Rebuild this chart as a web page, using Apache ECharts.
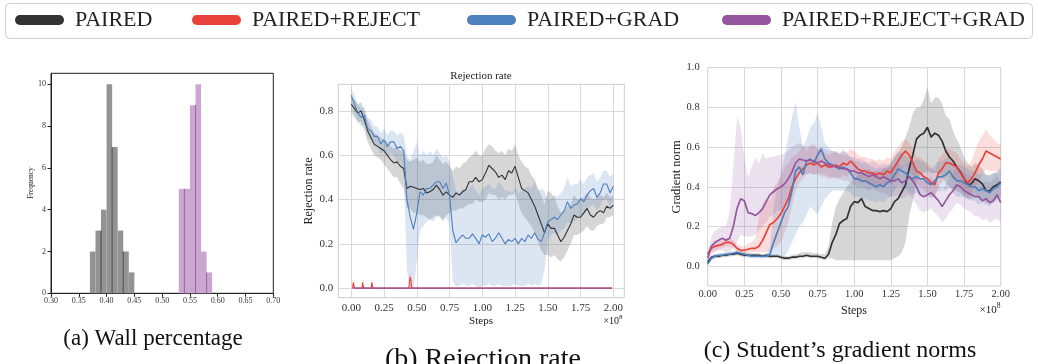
<!DOCTYPE html>
<html>
<head>
<meta charset="utf-8">
<script src="https://cdn.jsdelivr.net/npm/echarts@6/dist/echarts.min.js"></script>
<style>
  html, body { margin: 0; padding: 0; background: #fff; }
  #chart { width: 1038px; height: 364px; }
</style>
</head>
<body>
<div id="chart"></div>
<script>
// ---- (a) wall percentage histograms ----
const BIN_W = 0.01;
const WALL_BINS_PAIRED = [0.37, 0.38, 0.39, 0.40, 0.41, 0.42, 0.43, 0.44];
const WALL_COUNTS_PAIRED = [2, 3, 4, 10, 7, 3, 2, 1];
const WALL_BINS_BOTH = [0.53, 0.54, 0.55, 0.56, 0.57, 0.58];
const WALL_COUNTS_BOTH = [5, 5, 9, 10, 2, 1];
const WALL_EDGES_PAIRED = [0.39, 0.41, 0.43];
const WALL_EDGES_BOTH = [0.54, 0.56, 0.58];
const WALL_X_TICKS = [0.30, 0.35, 0.40, 0.45, 0.50, 0.55, 0.60, 0.65, 0.70];
const WALL_Y_TICKS = [0, 2, 4, 6, 8, 10];

// ---- shared step positions (x 1e8), rows of 0.2 ----
const STEPS = [
  0.000, 0.025, 0.050, 0.075, 0.100, 0.125, 0.150, 0.175,
  0.200, 0.225, 0.250, 0.275, 0.300, 0.325, 0.350, 0.375,
  0.400, 0.425, 0.450, 0.475, 0.500, 0.525, 0.550, 0.575,
  0.600, 0.625, 0.650, 0.675, 0.700, 0.725, 0.750, 0.775,
  0.800, 0.825, 0.850, 0.875, 0.900, 0.925, 0.950, 0.975,
  1.000, 1.025, 1.050, 1.075, 1.100, 1.125, 1.150, 1.175,
  1.200, 1.225, 1.250, 1.275, 1.300, 1.325, 1.350, 1.375,
  1.400, 1.425, 1.450, 1.475, 1.500, 1.525, 1.550, 1.575,
  1.600, 1.625, 1.650, 1.675, 1.700, 1.725, 1.750, 1.775,
  1.800, 1.825, 1.850, 1.875, 1.900, 1.925, 1.950, 1.975,
  2.000
];
const STEP_TICKS = [0, 0.25, 0.5, 0.75, 1.0, 1.25, 1.5, 1.75, 2.0];

// ---- (b) rejection rate ----
const REJ_PAIRED = [
  0.83, 0.81, 0.79, 0.80, 0.76, 0.71, 0.68, 0.65,
  0.64, 0.63, 0.62, 0.60, 0.58, 0.565, 0.57, 0.55,
  0.54, 0.45, 0.46, 0.455, 0.45, 0.445, 0.45, 0.43,
  0.435, 0.445, 0.465, 0.445, 0.42, 0.435, 0.42, 0.41,
  0.43, 0.42, 0.435, 0.445, 0.48, 0.48, 0.50, 0.48,
  0.49, 0.52, 0.555, 0.54, 0.525, 0.50, 0.51, 0.49,
  0.53, 0.52, 0.55, 0.50, 0.45, 0.44, 0.43, 0.40,
  0.37, 0.33, 0.29, 0.25, 0.29, 0.27, 0.27, 0.24,
  0.21, 0.23, 0.26, 0.29, 0.33, 0.32, 0.32, 0.34,
  0.36, 0.33, 0.32, 0.34, 0.35, 0.34, 0.37, 0.36,
  0.375
];
const REJ_PAIRED_LO = [
  0.79, 0.77, 0.75, 0.75, 0.71, 0.66, 0.63, 0.60,
  0.59, 0.58, 0.56, 0.54, 0.52, 0.50, 0.50, 0.47,
  0.45, 0.36, 0.36, 0.34, 0.34, 0.33, 0.33, 0.32,
  0.31, 0.32, 0.33, 0.32, 0.31, 0.33, 0.34, 0.35,
  0.35, 0.36, 0.36, 0.37, 0.38, 0.38, 0.40, 0.39,
  0.39, 0.40, 0.43, 0.42, 0.42, 0.40, 0.41, 0.40,
  0.42, 0.42, 0.43, 0.38, 0.34, 0.32, 0.30, 0.28,
  0.25, 0.21, 0.17, 0.15, 0.15, 0.14, 0.15, 0.13,
  0.12, 0.14, 0.17, 0.20, 0.24, 0.24, 0.25, 0.26,
  0.28, 0.26, 0.26, 0.28, 0.29, 0.29, 0.32, 0.32,
  0.33
];
const REJ_PAIRED_HI = [
  0.86, 0.85, 0.83, 0.84, 0.80, 0.76, 0.73, 0.70,
  0.69, 0.68, 0.67, 0.66, 0.64, 0.63, 0.64, 0.62,
  0.62, 0.58, 0.57, 0.58, 0.59, 0.57, 0.58, 0.56,
  0.56, 0.57, 0.60, 0.58, 0.56, 0.57, 0.55, 0.53,
  0.55, 0.54, 0.56, 0.57, 0.59, 0.60, 0.62, 0.60,
  0.60, 0.63, 0.65, 0.64, 0.62, 0.61, 0.62, 0.60,
  0.63, 0.62, 0.65, 0.60, 0.57, 0.55, 0.54, 0.51,
  0.49, 0.45, 0.42, 0.38, 0.44, 0.43, 0.41, 0.37,
  0.34, 0.35, 0.37, 0.38, 0.42, 0.40, 0.40, 0.41,
  0.43, 0.41, 0.40, 0.41, 0.42, 0.41, 0.43, 0.41,
  0.42
];
const REJ_GRAD = [
  0.87, 0.83, 0.79, 0.77, 0.78, 0.72, 0.71, 0.685,
  0.685, 0.65, 0.67, 0.64, 0.66, 0.66, 0.63, 0.64,
  0.62, 0.40, 0.32, 0.265, 0.34, 0.435, 0.42, 0.45,
  0.45, 0.465, 0.48, 0.48, 0.45, 0.475, 0.42, 0.26,
  0.205, 0.225, 0.24, 0.225, 0.225, 0.245, 0.225, 0.20,
  0.24, 0.23, 0.245, 0.21, 0.225, 0.25, 0.225, 0.20,
  0.22, 0.21, 0.225, 0.20, 0.225, 0.21, 0.24, 0.225,
  0.25, 0.22, 0.21, 0.25, 0.30, 0.31, 0.32, 0.31,
  0.33, 0.35, 0.39, 0.36, 0.375, 0.38, 0.405, 0.39,
  0.42, 0.44, 0.45, 0.41, 0.43, 0.47, 0.47, 0.43,
  0.46
];
const REJ_GRAD_LO = [
  0.83, 0.79, 0.75, 0.73, 0.74, 0.68, 0.67, 0.64,
  0.64, 0.60, 0.62, 0.59, 0.61, 0.60, 0.57, 0.57,
  0.52, 0.08, 0.00, 0.00, 0.12, 0.26, 0.28, 0.30,
  0.31, 0.30, 0.32, 0.33, 0.30, 0.32, 0.29, 0.03,
  0.01, 0.01, 0.02, 0.01, 0.01, 0.02, 0.01, 0.00,
  0.01, 0.01, 0.02, 0.01, 0.01, 0.02, 0.01, 0.01,
  0.01, 0.01, 0.02, 0.01, 0.01, 0.01, 0.02, 0.01,
  0.02, 0.01, 0.02, 0.08, 0.22, 0.24, 0.25, 0.24,
  0.26, 0.27, 0.30, 0.29, 0.30, 0.31, 0.33, 0.33,
  0.35, 0.37, 0.38, 0.35, 0.37, 0.40, 0.40, 0.37,
  0.39
];
const REJ_GRAD_HI = [
  0.90, 0.87, 0.83, 0.81, 0.82, 0.77, 0.76, 0.73,
  0.73, 0.70, 0.72, 0.69, 0.71, 0.71, 0.69, 0.70,
  0.69, 0.60, 0.58, 0.62, 0.66, 0.60, 0.62, 0.60,
  0.62, 0.60, 0.63, 0.61, 0.59, 0.60, 0.57, 0.50,
  0.44, 0.43, 0.45, 0.44, 0.45, 0.47, 0.44, 0.42,
  0.45, 0.46, 0.47, 0.45, 0.45, 0.48, 0.46, 0.44,
  0.44, 0.43, 0.45, 0.43, 0.44, 0.45, 0.46, 0.45,
  0.48, 0.44, 0.45, 0.44, 0.40, 0.40, 0.42, 0.41,
  0.43, 0.45, 0.50, 0.46, 0.47, 0.47, 0.49, 0.47,
  0.50, 0.51, 0.52, 0.48, 0.50, 0.53, 0.53, 0.50,
  0.52
];
// PAIRED+REJECT only leaves zero in four short blips
const REJ_REJECT_X  = [0.01, 0.014, 0.015, 0.025, 0.026, 0.084, 0.085, 0.095, 0.096, 0.154, 0.155, 0.165, 0.166, 0.44, 0.443, 0.45, 0.457, 0.46, 1.99];
const REJ_REJECT    = [0, 0, 0.025, 0.025, 0, 0, 0.025, 0.025, 0, 0, 0.025, 0.025, 0, 0, 0.03, 0.05, 0.03, 0, 0];
const REJ_REJECT_HI = [0, 0, 0.035, 0.035, 0, 0, 0.035, 0.035, 0, 0, 0.035, 0.035, 0, 0, 0.05, 0.07, 0.05, 0, 0];
const REJ_BOTH_X = [0.01, 1.99];
const REJ_BOTH = [0, 0];
const REJ_Y_TICKS = [0, 0.2, 0.4, 0.6, 0.8];

// ---- (c) student's gradient norms ----
const GN_PAIRED = [
  0.02, 0.045, 0.05, 0.05, 0.055, 0.055, 0.06, 0.06,
  0.065, 0.06, 0.055, 0.055, 0.055, 0.055, 0.055, 0.05,
  0.055, 0.05, 0.05, 0.05, 0.045, 0.04, 0.04, 0.045,
  0.045, 0.05, 0.05, 0.055, 0.05, 0.05, 0.05, 0.045,
  0.04, 0.06, 0.12, 0.16, 0.215, 0.23, 0.24, 0.30,
  0.325, 0.32, 0.34, 0.30, 0.29, 0.28, 0.28, 0.275,
  0.28, 0.275, 0.29, 0.325, 0.34, 0.375, 0.41, 0.49,
  0.56, 0.64, 0.66, 0.67, 0.70, 0.65, 0.67, 0.66,
  0.63, 0.58, 0.55, 0.53, 0.50, 0.475, 0.44, 0.41,
  0.415, 0.44, 0.43, 0.415, 0.38, 0.38, 0.40, 0.41,
  0.425
];
const GN_PAIRED_LO = [
  0.01, 0.035, 0.04, 0.04, 0.045, 0.045, 0.05, 0.05,
  0.055, 0.05, 0.045, 0.045, 0.045, 0.045, 0.045, 0.04,
  0.045, 0.04, 0.04, 0.04, 0.035, 0.03, 0.03, 0.035,
  0.035, 0.04, 0.04, 0.045, 0.04, 0.04, 0.04, 0.035,
  0.03, 0.04, 0.04, 0.03, 0.03, 0.03, 0.03, 0.03,
  0.03, 0.03, 0.03, 0.03, 0.03, 0.03, 0.03, 0.03,
  0.03, 0.03, 0.03, 0.04, 0.05, 0.07, 0.12, 0.25,
  0.33, 0.42, 0.46, 0.47, 0.48, 0.47, 0.47, 0.47,
  0.45, 0.42, 0.40, 0.39, 0.38, 0.37, 0.35, 0.34,
  0.34, 0.36, 0.35, 0.34, 0.32, 0.32, 0.33, 0.34,
  0.35
];
const GN_PAIRED_HI = [
  0.03, 0.055, 0.06, 0.06, 0.065, 0.065, 0.07, 0.07,
  0.075, 0.07, 0.065, 0.065, 0.065, 0.065, 0.065, 0.06,
  0.065, 0.06, 0.06, 0.06, 0.055, 0.05, 0.05, 0.055,
  0.06, 0.065, 0.07, 0.07, 0.07, 0.065, 0.065, 0.06,
  0.06, 0.10, 0.22, 0.30, 0.34, 0.37, 0.40, 0.42,
  0.44, 0.46, 0.48, 0.47, 0.49, 0.47, 0.48, 0.47,
  0.50, 0.49, 0.52, 0.55, 0.57, 0.60, 0.65, 0.70,
  0.77, 0.80, 0.80, 0.84, 0.90, 0.82, 0.85, 0.85,
  0.82, 0.76, 0.74, 0.68, 0.64, 0.60, 0.55, 0.52,
  0.50, 0.52, 0.51, 0.49, 0.46, 0.46, 0.47, 0.47,
  0.48
];
const GN_REJECT = [
  0.06, 0.09, 0.10, 0.105, 0.11, 0.12, 0.12, 0.11,
  0.09, 0.08, 0.08, 0.085, 0.09, 0.09, 0.10, 0.13,
  0.17, 0.21, 0.22, 0.24, 0.265, 0.30, 0.34, 0.40,
  0.44, 0.47, 0.49, 0.51, 0.52, 0.51, 0.52, 0.50,
  0.51, 0.50, 0.50, 0.51, 0.50, 0.52, 0.51, 0.53,
  0.51, 0.49, 0.48, 0.48, 0.47, 0.47, 0.46, 0.47,
  0.46, 0.48, 0.47, 0.50, 0.53, 0.56, 0.58, 0.56,
  0.52, 0.48, 0.47, 0.45, 0.44, 0.42, 0.41, 0.47,
  0.49, 0.52, 0.52, 0.51, 0.50, 0.47, 0.44, 0.42,
  0.44, 0.47, 0.51, 0.54, 0.58, 0.57, 0.56, 0.55,
  0.54
];
const GN_REJECT_LO = [
  0.04, 0.07, 0.08, 0.085, 0.09, 0.10, 0.10, 0.09,
  0.07, 0.06, 0.06, 0.065, 0.07, 0.07, 0.07, 0.07,
  0.07, 0.08, 0.09, 0.10, 0.12, 0.17, 0.22, 0.30,
  0.38, 0.42, 0.44, 0.46, 0.47, 0.46, 0.47, 0.45,
  0.45, 0.44, 0.44, 0.45, 0.44, 0.46, 0.45, 0.47,
  0.44, 0.43, 0.42, 0.42, 0.41, 0.41, 0.40, 0.41,
  0.40, 0.42, 0.41, 0.43, 0.46, 0.49, 0.51, 0.49,
  0.45, 0.41, 0.40, 0.38, 0.37, 0.35, 0.35, 0.40,
  0.42, 0.45, 0.45, 0.44, 0.43, 0.40, 0.37, 0.35,
  0.37, 0.40, 0.43, 0.46, 0.49, 0.48, 0.48, 0.48,
  0.47
];
const GN_REJECT_HI = [
  0.08, 0.11, 0.12, 0.125, 0.13, 0.14, 0.14, 0.13,
  0.11, 0.10, 0.10, 0.11, 0.12, 0.14, 0.25, 0.32,
  0.34, 0.33, 0.40, 0.42, 0.45, 0.50, 0.52, 0.55,
  0.56, 0.58, 0.60, 0.58, 0.60, 0.62, 0.59, 0.58,
  0.57, 0.56, 0.57, 0.58, 0.56, 0.59, 0.57, 0.59,
  0.58, 0.56, 0.55, 0.55, 0.54, 0.54, 0.53, 0.54,
  0.53, 0.55, 0.54, 0.58, 0.60, 0.63, 0.64, 0.62,
  0.59, 0.55, 0.55, 0.53, 0.52, 0.50, 0.48, 0.54,
  0.56, 0.59, 0.59, 0.58, 0.57, 0.54, 0.52, 0.50,
  0.53, 0.58, 0.63, 0.66, 0.69, 0.66, 0.64, 0.62,
  0.61
];
const GN_GRAD = [
  0.01, 0.04, 0.05, 0.055, 0.055, 0.06, 0.06, 0.065,
  0.07, 0.065, 0.06, 0.055, 0.05, 0.05, 0.05, 0.05,
  0.05, 0.06, 0.12, 0.17, 0.22, 0.27, 0.30, 0.38,
  0.48, 0.50, 0.46, 0.53, 0.54, 0.52, 0.56, 0.59,
  0.54, 0.52, 0.51, 0.50, 0.49, 0.50, 0.49, 0.47,
  0.44, 0.44, 0.43, 0.43, 0.42, 0.41, 0.40, 0.41,
  0.40, 0.42, 0.43, 0.46, 0.49, 0.48, 0.47, 0.45,
  0.44, 0.45, 0.44, 0.44, 0.42, 0.41, 0.43, 0.45,
  0.45, 0.46, 0.48, 0.45, 0.43, 0.43, 0.42, 0.41,
  0.40, 0.40, 0.38, 0.39, 0.38, 0.37, 0.39, 0.40,
  0.42
];
const GN_GRAD_LO = [
  0.00, 0.03, 0.04, 0.045, 0.045, 0.05, 0.05, 0.055,
  0.06, 0.055, 0.05, 0.045, 0.04, 0.04, 0.04, 0.04,
  0.04, 0.04, 0.05, 0.05, 0.04, 0.05, 0.08, 0.12,
  0.16, 0.20, 0.22, 0.26, 0.30, 0.28, 0.26, 0.30,
  0.34, 0.36, 0.38, 0.38, 0.38, 0.38, 0.38, 0.37,
  0.35, 0.35, 0.34, 0.34, 0.33, 0.33, 0.32, 0.33,
  0.32, 0.34, 0.35, 0.38, 0.41, 0.40, 0.39, 0.37,
  0.36, 0.37, 0.36, 0.36, 0.35, 0.34, 0.36, 0.38,
  0.38, 0.38, 0.40, 0.37, 0.35, 0.35, 0.35, 0.34,
  0.33, 0.33, 0.31, 0.32, 0.31, 0.30, 0.32, 0.33,
  0.35
];
const GN_GRAD_HI = [
  0.02, 0.05, 0.06, 0.065, 0.065, 0.07, 0.07, 0.075,
  0.08, 0.075, 0.07, 0.065, 0.06, 0.06, 0.06, 0.06,
  0.06, 0.10, 0.30, 0.40, 0.48, 0.55, 0.65, 0.75,
  0.83, 0.70, 0.60, 0.64, 0.70, 0.72, 0.77, 0.70,
  0.62, 0.60, 0.58, 0.58, 0.57, 0.58, 0.57, 0.55,
  0.53, 0.53, 0.52, 0.52, 0.51, 0.50, 0.49, 0.50,
  0.49, 0.51, 0.52, 0.55, 0.58, 0.57, 0.56, 0.54,
  0.53, 0.54, 0.53, 0.53, 0.50, 0.49, 0.51, 0.53,
  0.53, 0.54, 0.56, 0.53, 0.51, 0.51, 0.50, 0.49,
  0.48, 0.48, 0.46, 0.47, 0.46, 0.45, 0.47, 0.48,
  0.50
];
const GN_BOTH = [
  0.04, 0.10, 0.12, 0.13, 0.14, 0.13, 0.14, 0.20,
  0.29, 0.34, 0.33, 0.27, 0.265, 0.255, 0.27, 0.29,
  0.325, 0.36, 0.375, 0.39, 0.40, 0.415, 0.44, 0.475,
  0.52, 0.54, 0.535, 0.53, 0.535, 0.53, 0.52, 0.53,
  0.52, 0.51, 0.51, 0.50, 0.50, 0.49, 0.49, 0.48,
  0.48, 0.47, 0.47, 0.46, 0.45, 0.46, 0.45, 0.44,
  0.45, 0.44, 0.43, 0.43, 0.44, 0.42, 0.43, 0.45,
  0.43, 0.40, 0.36, 0.35, 0.36, 0.37, 0.35, 0.33,
  0.30, 0.33, 0.36, 0.38, 0.41, 0.40, 0.38, 0.37,
  0.36, 0.35, 0.35, 0.33, 0.34, 0.32, 0.33, 0.36,
  0.32
];
const GN_BOTH_LO = [
  0.02, 0.06, 0.07, 0.08, 0.08, 0.07, 0.07, 0.09,
  0.12, 0.16, 0.15, 0.15, 0.15, 0.16, 0.18, 0.20,
  0.22, 0.25, 0.26, 0.28, 0.28, 0.30, 0.33, 0.38,
  0.44, 0.47, 0.47, 0.46, 0.47, 0.46, 0.46, 0.47,
  0.46, 0.45, 0.45, 0.44, 0.44, 0.43, 0.43, 0.42,
  0.41, 0.40, 0.40, 0.39, 0.38, 0.39, 0.38, 0.37,
  0.37, 0.36, 0.35, 0.35, 0.36, 0.34, 0.35, 0.36,
  0.34, 0.31, 0.28, 0.27, 0.28, 0.29, 0.27, 0.25,
  0.22, 0.24, 0.27, 0.29, 0.32, 0.31, 0.29, 0.28,
  0.27, 0.25, 0.25, 0.23, 0.24, 0.22, 0.23, 0.24,
  0.22
];
const GN_BOTH_HI = [
  0.07, 0.15, 0.18, 0.19, 0.20, 0.20, 0.28, 0.50,
  0.75, 0.70, 0.55, 0.45, 0.50, 0.55, 0.52, 0.57,
  0.54, 0.55, 0.55, 0.56, 0.56, 0.57, 0.58, 0.60,
  0.61, 0.62, 0.61, 0.60, 0.61, 0.60, 0.59, 0.60,
  0.59, 0.58, 0.58, 0.57, 0.57, 0.56, 0.56, 0.55,
  0.55, 0.54, 0.54, 0.53, 0.52, 0.53, 0.52, 0.51,
  0.52, 0.51, 0.50, 0.51, 0.52, 0.50, 0.51, 0.53,
  0.51, 0.48, 0.44, 0.43, 0.44, 0.45, 0.43, 0.41,
  0.38, 0.41, 0.45, 0.47, 0.50, 0.49, 0.47, 0.46,
  0.45, 0.44, 0.44, 0.42, 0.43, 0.42, 0.43, 0.46,
  0.42
];
const GN_Y_TICKS = [0, 0.2, 0.4, 0.6, 0.8, 1.0];

const NAMES = ['PAIRED', 'PAIRED+REJECT', 'PAIRED+GRAD', 'PAIRED+REJECT+GRAD'];
const COLORS = ['#333333', '#e8403a', '#4c80bf', '#93569f'];
const BANDS = ['rgba(90,90,90,0.25)', 'rgba(232,64,58,0.18)', 'rgba(76,128,191,0.2)', 'rgba(147,86,159,0.18)'];
const SERIF = 'Liberation Serif, DejaVu Serif, serif';

function pairs(xs, ys) {
  return xs.map(function (x, i) { return [x, ys[i]]; });
}

function band(gi, xs, lo, hi, fill) {
  return {
    type: 'custom', xAxisIndex: gi, yAxisIndex: gi, silent: true, z: 1,
    encode: { x: 0, y: [1, 2] },
    data: xs.map(function (x, i) { return [x, lo[i], hi[i]]; }),
    renderItem: function (params, api) {
      if (params.dataIndex !== 0) return;
      const top = [], bot = [];
      for (let i = 0; i < xs.length; i++) {
        top.push(api.coord([xs[i], hi[i]]));
        bot.unshift(api.coord([xs[i], lo[i]]));
      }
      return { type: 'polygon', shape: { points: top.concat(bot) }, style: { fill: fill } };
    }
  };
}

function line(gi, name, data, color, width) {
  return {
    type: 'line', name: name, xAxisIndex: gi, yAxisIndex: gi, z: 3,
    data: data, showSymbol: false, symbol: 'none', color: color,
    lineStyle: { color: color, width: width }, animation: false
  };
}

function hist(bins, counts, edges, fill, edgeColor) {
  return {
    type: 'custom', xAxisIndex: 0, yAxisIndex: 0, silent: true,
    data: bins.map(function (b, i) { return [b, counts[i]]; }),
    renderItem: function (params, api) {
      const i = params.dataIndex;
      const x0 = bins[i], h = counts[i];
      const p0 = api.coord([x0, 0]), p1 = api.coord([x0 + BIN_W, h]);
      const kids = [{
        type: 'rect',
        shape: { x: p0[0], y: p1[1], width: p1[0] - p0[0], height: p0[1] - p1[1] },
        style: { fill: fill }
      }];
      if (i > 0 && edges.some(function (e) { return Math.abs(e - x0) < 1e-6; })) {
        const t = api.coord([x0, Math.min(h, counts[i - 1])]);
        kids.push({ type: 'line', shape: { x1: p0[0], y1: t[1], x2: p0[0], y2: p0[1] },
          style: { stroke: edgeColor, lineWidth: 1 } });
      }
      return { type: 'group', children: kids };
    }
  };
}

function valueAxis(gi, min, max, ticks, digits, size, margin, extra) {
  return Object.assign({
    type: 'value', gridIndex: gi, min: min, max: max,
    axisLine: { show: false },
    axisTick: { show: false, customValues: ticks },
    axisLabel: {
      customValues: ticks, fontSize: size, color: '#333', margin: margin, fontFamily: SERIF,
      formatter: function (v) { return v.toFixed(digits); }
    },
    splitLine: { show: true, lineStyle: { color: '#d9d9d9', width: 1 } }
  }, extra || {});
}

const frameAxis = {
  axisLine: { show: true, onZero: false, lineStyle: { color: '#222', width: 1 } },
  splitLine: { show: false }
};

function txt(text, x, y, size, rot, extra) {
  return {
    type: 'text', x: x, y: y, rotation: rot || 0, silent: true,
    style: Object.assign({
      text: text, fontSize: size, fontFamily: SERIF, fill: '#222',
      align: 'center', verticalAlign: 'middle', textAlign: 'center', textVerticalAlign: 'middle'
    }, extra || {})
  };
}

const legendIcon = 'path://M5,0 H45 A5,5 0 0 1 45,10 H5 A5,5 0 0 1 5,0 Z';
const LEGEND_LEFT = [10, 187, 462, 717];

const chart = echarts.init(document.getElementById('chart'), null, { renderer: 'canvas' });
const option = {
  animation: false,
  backgroundColor: '#fff',
  textStyle: { fontFamily: SERIF },
  legend: NAMES.map(function (n, i) {
    return {
      data: [n], left: LEGEND_LEFT[i], top: 4, icon: legendIcon,
      itemWidth: 49, itemHeight: 10, selectedMode: false,
      textStyle: { fontFamily: SERIF, fontSize: 22, color: '#222', padding: [0, 0, 0, 6] }
    };
  }),
  grid: [
    { left: 51, top: 73.3, width: 222.3, height: 220, show: true, borderColor: '#222', borderWidth: 1, backgroundColor: '#fff' },
    { left: 338.3, top: 84.3, width: 286, height: 213.4, show: true, borderColor: '#cccccc', borderWidth: 1 },
    { left: 707.7, top: 67.7, width: 293, height: 218.3, show: true, borderColor: '#cccccc', borderWidth: 1 }
  ],
  xAxis: [
    Object.assign(valueAxis(0, 0.30, 0.70, WALL_X_TICKS, 2, 8, 4), frameAxis, {
      axisTick: { show: true, inside: false, length: 3.5, customValues: WALL_X_TICKS, lineStyle: { color: '#222' } }
    }),
    valueAxis(1, -0.099, 2.084, STEP_TICKS, 2, 11, 5),
    valueAxis(2, 0, 2, STEP_TICKS, 2, 10.5, 3)
  ],
  yAxis: [
    Object.assign(valueAxis(0, 0, 10.53, WALL_Y_TICKS, 0, 8, 5), frameAxis, {
      axisTick: { show: true, inside: false, length: 3.5, customValues: WALL_Y_TICKS, lineStyle: { color: '#222' } }
    }),
    valueAxis(1, -0.043, 0.92, REJ_Y_TICKS, 1, 11, 5),
    valueAxis(2, -0.1, 1.0, GN_Y_TICKS, 1, 10.5, 8)
  ],
  graphic: [
    { type: 'rect', shape: { x: 5.5, y: 3.5, width: 1027, height: 35, r: 4 }, silent: true,
      style: { fill: 'none', stroke: '#d0d0d0', lineWidth: 1 } },
    txt('Frequency', 31, 183, 7.5, Math.PI / 2),
    txt('Rejection rate', 481, 76, 11),
    txt('Rejection rate', 309, 191, 12, Math.PI / 2),
    txt('Steps', 481, 321, 11),
    txt('×10{s|8}', 613, 321, 10, 0, { rich: { s: { fontSize: 7, padding: [0, 0, 7, 0], fontFamily: SERIF } } }),
    txt('Gradient norm', 677, 177, 12.5, Math.PI / 2),
    txt('Steps', 854, 311, 12),
    txt('×10{s|8}', 990, 310, 11, 0, { rich: { s: { fontSize: 7.5, padding: [0, 0, 7, 0], fontFamily: SERIF } } }),
    txt('(a) Wall percentage', 153, 339, 23, 0, { fill: '#111' }),
    txt('(b) Rejection rate', 483, 360, 28, 0, { fill: '#111' }),
    txt('(c) Student\u2019s gradient norms', 840, 351, 24, 0, { fill: '#111' })
  ],
  series: [
    hist(WALL_BINS_PAIRED, WALL_COUNTS_PAIRED, WALL_EDGES_PAIRED, '#939393', '#4a4a4a'),
    hist(WALL_BINS_BOTH, WALL_COUNTS_BOTH, WALL_EDGES_BOTH, '#cba6cf', '#9a60a6'),

    band(1, STEPS, REJ_PAIRED_LO, REJ_PAIRED_HI, BANDS[0]),
    band(1, STEPS, REJ_GRAD_LO, REJ_GRAD_HI, BANDS[2]),
    band(1, REJ_REJECT_X, REJ_REJECT.map(function () { return 0; }), REJ_REJECT_HI, BANDS[1]),
    line(1, NAMES[0], pairs(STEPS, REJ_PAIRED), COLORS[0], 1.1),
    line(1, NAMES[1], pairs(REJ_REJECT_X, REJ_REJECT), COLORS[1], 1.1),
    line(1, NAMES[2], pairs(STEPS, REJ_GRAD), COLORS[2], 1.1),
    line(1, NAMES[3], pairs(REJ_BOTH_X, REJ_BOTH), COLORS[3], 1.1),

    band(2, STEPS, GN_PAIRED_LO, GN_PAIRED_HI, BANDS[0]),
    band(2, STEPS, GN_REJECT_LO, GN_REJECT_HI, BANDS[1]),
    band(2, STEPS, GN_GRAD_LO, GN_GRAD_HI, BANDS[2]),
    band(2, STEPS, GN_BOTH_LO, GN_BOTH_HI, BANDS[3]),
    line(2, NAMES[0], pairs(STEPS, GN_PAIRED), COLORS[0], 1.7),
    line(2, NAMES[1], pairs(STEPS, GN_REJECT), COLORS[1], 1.7),
    line(2, NAMES[2], pairs(STEPS, GN_GRAD), COLORS[2], 1.7),
    line(2, NAMES[3], pairs(STEPS, GN_BOTH), COLORS[3], 1.7)
  ]
};
chart.setOption(option);
</script>
</body>
</html>
